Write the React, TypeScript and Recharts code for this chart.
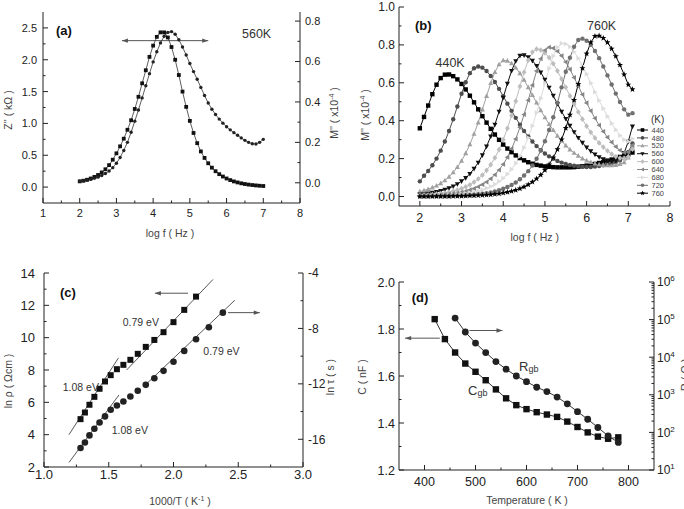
import React from 'react'
import { ComposedChart, Line, XAxis, YAxis, ReferenceLine, Legend } from 'recharts'

const FONT = '"Liberation Sans", Arial, Helvetica, sans-serif'
const INK = '#222'
const TITLE = '#444'

// ---------- (a) Z'' and M'' at 560K ----------
const logFA = [2, 2.1, 2.2, 2.3, 2.4, 2.5, 2.6, 2.7, 2.8, 2.9, 3, 3.1, 3.2, 3.3, 3.4, 3.5, 3.6, 3.7, 3.8, 3.9, 4, 4.1, 4.2, 4.3, 4.4, 4.5, 4.6, 4.7, 4.8, 4.9, 5, 5.1, 5.2, 5.3, 5.4, 5.5, 5.6, 5.7, 5.8, 5.9, 6, 6.1, 6.2, 6.3, 6.4, 6.5, 6.6, 6.7, 6.8, 6.9, 7]
const zImag = [0.09, 0.1, 0.115, 0.135, 0.16, 0.19, 0.23, 0.28, 0.345, 0.43, 0.53, 0.64, 0.76, 0.9, 1.05, 1.227, 1.418, 1.63, 1.835, 2.045, 2.222, 2.36, 2.43, 2.43, 2.35, 2.2, 2.0, 1.76, 1.5, 1.26, 1.04, 0.85, 0.69, 0.56, 0.458, 0.374, 0.305, 0.249, 0.203, 0.166, 0.135, 0.11, 0.089, 0.073, 0.059, 0.048, 0.039, 0.032, 0.026, 0.021, 0.017]
const mImag = [0.008, 0.01, 0.013, 0.017, 0.022, 0.028, 0.036, 0.046, 0.058, 0.075, 0.097, 0.125, 0.16, 0.2, 0.25, 0.305, 0.36, 0.42, 0.48, 0.54, 0.598, 0.648, 0.692, 0.725, 0.744, 0.748, 0.735, 0.708, 0.672, 0.632, 0.59, 0.55, 0.512, 0.472, 0.432, 0.395, 0.364, 0.338, 0.315, 0.295, 0.277, 0.262, 0.248, 0.235, 0.222, 0.21, 0.2, 0.193, 0.192, 0.2, 0.215]

// ---------- (b) M'' vs log f, 440-760 K ----------
const logFB = [2, 2.1, 2.2, 2.3, 2.4, 2.5, 2.6, 2.7, 2.8, 2.9, 3, 3.1, 3.2, 3.3, 3.4, 3.5, 3.6, 3.7, 3.8, 3.9, 4, 4.1, 4.2, 4.3, 4.4, 4.5, 4.6, 4.7, 4.8, 4.9, 5, 5.1, 5.2, 5.3, 5.4, 5.5, 5.6, 5.7, 5.8, 5.9, 6, 6.1, 6.2, 6.3, 6.4, 6.5, 6.6, 6.7, 6.8, 6.9, 7, 7.1]
const m440 = [0.36, 0.42, 0.48, 0.54, 0.59, 0.625, 0.643, 0.644, 0.635, 0.618, 0.594, 0.565, 0.532, 0.497, 0.46, 0.424, 0.39, 0.357, 0.327, 0.299, 0.274, 0.253, 0.234, 0.217, 0.203, 0.191, 0.181, 0.173, 0.167, 0.163, 0.159, 0.157, 0.155, 0.154, 0.154, 0.154, 0.154, 0.155, 0.157, 0.16, 0.163, 0.167, 0.172, 0.177, 0.182, 0.189, 0.195, 0.202, 0.209, 0.216, 0.223, 0.232]
const m480 = [0.08, 0.11, 0.135, 0.165, 0.2, 0.242, 0.29, 0.346, 0.408, 0.475, 0.542, 0.603, 0.651, 0.677, 0.686, 0.68, 0.662, 0.636, 0.604, 0.568, 0.53, 0.49, 0.452, 0.415, 0.379, 0.346, 0.317, 0.29, 0.266, 0.245, 0.227, 0.212, 0.199, 0.188, 0.179, 0.172, 0.166, 0.162, 0.159, 0.157, 0.156, 0.156, 0.158, 0.161, 0.165, 0.169, 0.175, 0.182, 0.19, 0.205, 0.235, 0.28]
const m520 = [0.026, 0.032, 0.039, 0.047, 0.057, 0.07, 0.085, 0.104, 0.127, 0.155, 0.188, 0.228, 0.275, 0.33, 0.39, 0.459, 0.53, 0.598, 0.656, 0.697, 0.718, 0.716, 0.702, 0.68, 0.65, 0.615, 0.576, 0.535, 0.495, 0.455, 0.417, 0.382, 0.35, 0.32, 0.293, 0.269, 0.248, 0.23, 0.215, 0.2, 0.19, 0.181, 0.174, 0.169, 0.166, 0.164, 0.164, 0.166, 0.171, 0.18, 0.205, 0.255]
const m560 = [0.011, 0.013, 0.016, 0.02, 0.024, 0.03, 0.036, 0.044, 0.054, 0.066, 0.081, 0.098, 0.12, 0.147, 0.179, 0.218, 0.264, 0.317, 0.38, 0.448, 0.522, 0.596, 0.663, 0.715, 0.743, 0.746, 0.736, 0.717, 0.69, 0.655, 0.617, 0.575, 0.532, 0.489, 0.448, 0.41, 0.374, 0.34, 0.31, 0.284, 0.259, 0.239, 0.222, 0.208, 0.197, 0.19, 0.186, 0.188, 0.2, 0.23, 0.29, 0.37]
const m600 = [0.006, 0.007, 0.008, 0.01, 0.013, 0.015, 0.019, 0.023, 0.028, 0.034, 0.042, 0.051, 0.062, 0.076, 0.093, 0.113, 0.138, 0.168, 0.204, 0.248, 0.3, 0.36, 0.428, 0.503, 0.581, 0.656, 0.719, 0.762, 0.778, 0.773, 0.758, 0.733, 0.701, 0.663, 0.62, 0.576, 0.531, 0.488, 0.446, 0.408, 0.371, 0.339, 0.309, 0.283, 0.261, 0.241, 0.224, 0.211, 0.203, 0.2, 0.21, 0.25]
const m640 = [0.003, 0.004, 0.005, 0.006, 0.007, 0.009, 0.01, 0.013, 0.016, 0.019, 0.023, 0.028, 0.035, 0.042, 0.052, 0.063, 0.077, 0.094, 0.115, 0.14, 0.17, 0.207, 0.252, 0.304, 0.364, 0.433, 0.508, 0.587, 0.662, 0.727, 0.772, 0.788, 0.783, 0.767, 0.743, 0.71, 0.671, 0.628, 0.583, 0.538, 0.494, 0.452, 0.413, 0.376, 0.343, 0.313, 0.287, 0.263, 0.244, 0.232, 0.235, 0.27]
const m680 = [0.002, 0.002, 0.003, 0.003, 0.004, 0.005, 0.006, 0.007, 0.009, 0.011, 0.013, 0.016, 0.02, 0.024, 0.029, 0.036, 0.044, 0.053, 0.065, 0.079, 0.097, 0.118, 0.144, 0.175, 0.213, 0.258, 0.31, 0.372, 0.442, 0.518, 0.598, 0.675, 0.742, 0.788, 0.808, 0.805, 0.79, 0.764, 0.73, 0.69, 0.646, 0.599, 0.552, 0.507, 0.464, 0.423, 0.386, 0.352, 0.322, 0.3, 0.29, 0.305]
const m720 = [0.001, 0.001, 0.001, 0.002, 0.002, 0.002, 0.003, 0.003, 0.004, 0.005, 0.006, 0.007, 0.008, 0.01, 0.012, 0.015, 0.018, 0.022, 0.027, 0.033, 0.041, 0.05, 0.061, 0.074, 0.091, 0.111, 0.134, 0.164, 0.199, 0.242, 0.292, 0.351, 0.418, 0.494, 0.576, 0.658, 0.732, 0.79, 0.826, 0.833, 0.822, 0.801, 0.768, 0.73, 0.686, 0.639, 0.591, 0.543, 0.499, 0.46, 0.432, 0.44]
const m760 = [0, 0, 0, 0, 0.001, 0.001, 0.001, 0.001, 0.002, 0.002, 0.002, 0.003, 0.004, 0.005, 0.006, 0.007, 0.008, 0.01, 0.013, 0.015, 0.019, 0.023, 0.028, 0.034, 0.042, 0.051, 0.063, 0.077, 0.094, 0.114, 0.139, 0.169, 0.205, 0.249, 0.301, 0.361, 0.431, 0.509, 0.593, 0.677, 0.754, 0.813, 0.846, 0.848, 0.836, 0.813, 0.78, 0.74, 0.694, 0.644, 0.59, 0.565]

// ---------- (c) Arrhenius plots ----------
const invT = [1.282, 1.316, 1.351, 1.389, 1.429, 1.471, 1.515, 1.563, 1.613, 1.667, 1.724, 1.786, 1.852, 1.923, 2.0, 2.083, 2.174, 2.273, 2.381]
const lnRho = [4.96, 5.37, 5.85, 6.34, 6.84, 7.29, 7.68, 8.05, 8.32, 8.63, 9.0, 9.43, 9.86, 10.34, 10.96, 11.72, 12.54]
const lnTau = [-16.63, -16.23, -15.72, -15.24, -14.79, -14.35, -13.87, -13.56, -13.27, -12.91, -12.5, -12.07, -11.59, -11.06, -10.41, -9.62, -8.78, -7.91, -6.86]

// ---------- (d) grain boundary C and R ----------
const temps = [420, 440, 460, 480, 500, 520, 540, 560, 580, 600, 620, 640, 660, 680, 700, 720, 740, 760, 780]
const cgb = [1.842, 1.757, 1.7, 1.653, 1.618, 1.582, 1.543, 1.505, 1.476, 1.459, 1.446, 1.436, 1.426, 1.406, 1.383, 1.36, 1.342, 1.333, 1.339]
const rgb = [null, null, 109600, 46800, 23700, 13300, 7670, 4790, 3160, 2240, 1590, 1220, 871, 575, 355, 224, 135, 81, 54]

// ticks
const ticksAX = [1, 1.5, 2, 2.5, 3, 3.5, 4, 4.5, 5, 5.5, 6, 6.5, 7, 7.5, 8]
const majAX = [1, 2, 3, 4, 5, 6, 7, 8]
const ticksAL = [0, 0.25, 0.5, 0.75, 1, 1.25, 1.5, 1.75, 2, 2.25, 2.5]
const majAL = [0, 0.5, 1, 1.5, 2, 2.5]
const ticksAR = [0, 0.1, 0.2, 0.3, 0.4, 0.5, 0.6, 0.7, 0.8]
const majAR = [0, 0.2, 0.4, 0.6, 0.8]
const ticksBX = [2, 2.5, 3, 3.5, 4, 4.5, 5, 5.5, 6, 6.5, 7, 7.5, 8]
const majBX = [2, 3, 4, 5, 6, 7, 8]
const ticksBY = [0, 0.1, 0.2, 0.3, 0.4, 0.5, 0.6, 0.7, 0.8, 0.9, 1.0]
const majBY = [0, 0.2, 0.4, 0.6, 0.8, 1.0]
const ticksCX = [1, 1.25, 1.5, 1.75, 2, 2.25, 2.5, 2.75, 3]
const majCX = [1, 1.5, 2, 2.5, 3]
const ticksCL = [2, 3, 4, 5, 6, 7, 8, 9, 10, 11, 12, 13, 14]
const majCL = [2, 4, 6, 8, 10, 12, 14]
const ticksCR = [-16, -14, -12, -10, -8, -6, -4]
const majCR = [-16, -12, -8, -4]
const ticksDX = [400, 450, 500, 550, 600, 650, 700, 750, 800]
const majDX = [400, 500, 600, 700, 800]
const ticksDL = [1.2, 1.3, 1.4, 1.5, 1.6, 1.7, 1.8, 1.9, 2.0]
const majDL = [1.2, 1.4, 1.6, 1.8, 2.0]
const ticksDR = [10, 20, 30, 40, 50, 60, 70, 80, 90, 100, 200, 300, 400, 500, 600, 700, 800, 900, 1000, 2000, 3000, 4000, 5000, 6000, 7000, 8000, 9000, 10000, 20000, 30000, 40000, 50000, 60000, 70000, 80000, 90000, 100000, 200000, 300000, 400000, 500000, 600000, 700000, 800000, 900000, 1000000]
const majDR = [10, 100, 1000, 10000, 100000, 1000000]

const seriesB = [
  { key: 't440', label: '440', values: m440, color: '#000', shape: 'square' },
  { key: 't480', label: '480', values: m480, color: '#4d4d4d', shape: 'circle' },
  { key: 't520', label: '520', values: m520, color: '#a0a0a0', shape: 'up' },
  { key: 't560', label: '560', values: m560, color: '#111', shape: 'down' },
  { key: 't600', label: '600', values: m600, color: '#bdbdbd', shape: 'diamond' },
  { key: 't640', label: '640', values: m640, color: '#858585', shape: 'left' },
  { key: 't680', label: '680', values: m680, color: '#dcdcdc', shape: 'right' },
  { key: 't720', label: '720', values: m720, color: '#707070', shape: 'circle' },
  { key: 't760', label: '760', values: m760, color: '#000', shape: 'star' },
]

function marker(shape: string, cx: number, cy: number, s: number, fill: string, key?: any) {
  if (cx == null || cy == null || isNaN(cx) || isNaN(cy)) return <g key={key} />
  switch (shape) {
    case 'square':
      return <rect key={key} x={cx - s} y={cy - s} width={2 * s} height={2 * s} fill={fill} />
    case 'circle':
      return <circle key={key} cx={cx} cy={cy} r={s} fill={fill} />
    case 'up':
      return <polygon key={key} points={`${cx},${cy - s * 1.25} ${cx + s * 1.15},${cy + s * 0.85} ${cx - s * 1.15},${cy + s * 0.85}`} fill={fill} />
    case 'down':
      return <polygon key={key} points={`${cx},${cy + s * 1.25} ${cx + s * 1.15},${cy - s * 0.85} ${cx - s * 1.15},${cy - s * 0.85}`} fill={fill} />
    case 'left':
      return <polygon key={key} points={`${cx - s * 1.25},${cy} ${cx + s * 0.85},${cy - s * 1.15} ${cx + s * 0.85},${cy + s * 1.15}`} fill={fill} />
    case 'right':
      return <polygon key={key} points={`${cx + s * 1.25},${cy} ${cx - s * 0.85},${cy - s * 1.15} ${cx - s * 0.85},${cy + s * 1.15}`} fill={fill} />
    case 'diamond':
      return <polygon key={key} points={`${cx},${cy - s * 1.3} ${cx + s * 1.1},${cy} ${cx},${cy + s * 1.3} ${cx - s * 1.1},${cy}`} fill={fill} />
    case 'star': {
      const pts: string[] = []
      for (let i = 0; i < 10; i++) {
        const r = i % 2 === 0 ? s * 1.45 : s * 0.6
        const a = -Math.PI / 2 + (i * Math.PI) / 5
        pts.push(`${cx + r * Math.cos(a)},${cy + r * Math.sin(a)}`)
      }
      return <polygon key={key} points={pts.join(' ')} fill={fill} />
    }
  }
  return <g key={key} />
}

const dotOf = (shape: string, s: number, fill: string) => (p: any) => marker(shape, p.cx, p.cy, s, fill, `d${p.index}`)

const isMajor = (v: number, majors: number[]) => majors.some((m) => Math.abs(m - v) <= Math.abs(m) * 1e-6 + 1e-9)

// inward ticks, long for majors, short for minors; labels only on majors
function makeTick(side: string, majors: number[], fmt: ((v: number) => any) | null, fontSize = 12, gap = 12) {
  return (props: any) => {
    const { x, y, payload } = props
    const v = payload.value
    const major = isMajor(v, majors)
    const len = major ? 5 : 2.5
    let x2 = x
    let y2 = y
    if (side === 'bottom') y2 = y - len
    if (side === 'top') y2 = y + len
    if (side === 'left') x2 = x + len
    if (side === 'right') x2 = x - len
    let label: any = null
    if (major && fmt) {
      const common = { fontSize, fill: INK, fontFamily: FONT }
      if (side === 'bottom') label = <text x={x} y={y + gap} textAnchor="middle" {...common}>{fmt(v)}</text>
      if (side === 'left') label = <text x={x - gap} y={y + fontSize * 0.36} textAnchor="end" {...common}>{fmt(v)}</text>
      if (side === 'right') label = <text x={x + gap} y={y + fontSize * 0.36} textAnchor="start" {...common}>{fmt(v)}</text>
    }
    return (
      <g>
        <line x1={x} y1={y} x2={x2} y2={y2} stroke={INK} strokeWidth={1} />
        {label}
      </g>
    )
  }
}

const arrowShape = (both: boolean) => (p: any) => {
  const { x1, y1, x2, y2 } = p
  const a = Math.atan2(y2 - y1, x2 - x1)
  const head = (x: number, y: number, ang: number) => {
    const L = 6
    const W = 2.2
    const bx = x - L * Math.cos(ang)
    const by = y - L * Math.sin(ang)
    return `${x},${y} ${bx - W * Math.sin(ang)},${by + W * Math.cos(ang)} ${bx + W * Math.sin(ang)},${by - W * Math.cos(ang)}`
  }
  return (
    <g>
      <line x1={x1} y1={y1} x2={x2} y2={y2} stroke="#555" strokeWidth={1} />
      <polygon points={head(x2, y2, a)} fill="#555" />
      {both ? <polygon points={head(x1, y1, a + Math.PI)} fill="#555" /> : null}
    </g>
  )
}

const axisLine = { stroke: INK, strokeWidth: 1 }
const axisBase = { tickLine: false, tickSize: 0, tickMargin: 0, interval: 0 as const, allowDataOverflow: true, axisLine }
const fmt1 = (v: number) => v.toFixed(1)
const fmtInt = (v: number) => String(v)
const fmtPow = (v: number) => (
  <>
    <tspan>10</tspan>
    <tspan dy={-5} fontSize={8}>{Math.round(Math.log10(v))}</tspan>
  </>
)

function PanelA() {
  const data = logFA.map((x, i) => ({ x, z: zImag[i], m: mImag[i] }))
  return (
    <ComposedChart width={342} height={254} data={data} margin={{ top: 12, right: 0, bottom: 0, left: 0 }}>
      <XAxis xAxisId="top" orientation="top" type="number" domain={[1, 8]} height={0} ticks={ticksAX} tick={makeTick('top', majAX, null)} {...axisBase} />
      <XAxis dataKey="x" type="number" domain={[1, 8]} height={51} ticks={ticksAX} tick={makeTick('bottom', majAX, fmtInt, 11, 13.5)} {...axisBase} />
      <YAxis yAxisId="l" type="number" domain={[-0.25, 2.75]} width={43} ticks={ticksAL} tick={makeTick('left', majAL, fmt1, 11, 6)} {...axisBase} />
      <YAxis yAxisId="r" orientation="right" type="number" domain={[-0.1, 0.845]} width={42} ticks={ticksAR} tick={makeTick('right', majAR, fmt1, 11, 5)} {...axisBase} />
      <ReferenceLine yAxisId="l" segment={[{ x: 3.15, y: 2.3 }, { x: 5.5, y: 2.3 }]} shape={arrowShape(true)} />
      <Line yAxisId="l" dataKey="z" type="linear" stroke="#333" strokeWidth={0.8} dot={dotOf('square', 1.9, '#111')} activeDot={false} isAnimationActive={false} />
      <Line yAxisId="r" dataKey="m" type="linear" stroke="#333" strokeWidth={0.8} dot={dotOf('circle', 1.7, '#222')} activeDot={false} isAnimationActive={false} />
    </ComposedChart>
  )
}

const legendB = () => (
  <svg width={48} height={92} style={{ overflow: 'visible' }}>
    <text x={14} y={11} fontSize={10} fill="#333" fontFamily={FONT}>(K)</text>
    {seriesB.map((s, i) => {
      const cy = 18 + i * 7.9
      return (
        <g key={s.key}>
          <line x1={0} y1={cy} x2={11} y2={cy} stroke={s.color} strokeWidth={1} />
          {marker(s.shape, 5.5, cy, 1.8, s.color)}
          <text x={14.5} y={cy + 2.6} fontSize={7.5} fill="#444" fontFamily={FONT}>{s.label}</text>
        </g>
      )
    })}
  </svg>
)

function PanelB() {
  const data = logFB.map((x, i) => {
    const row: any = { x }
    seriesB.forEach((s) => { row[s.key] = s.values[i] })
    return row
  })
  return (
    <ComposedChart width={342} height={254} data={data} margin={{ top: 7, right: 14, bottom: 0, left: 0 }}>
      <XAxis xAxisId="top" orientation="top" type="number" domain={[1.5, 8]} height={0} ticks={ticksBX} tick={makeTick('top', majBX, null)} {...axisBase} />
      <XAxis dataKey="x" type="number" domain={[1.5, 8]} height={48} ticks={ticksBX} tick={makeTick('bottom', majBX, fmtInt, 12.5, 15.5)} {...axisBase} />
      <YAxis yAxisId="l" type="number" domain={[-0.05, 1.0]} width={57} ticks={ticksBY} tick={makeTick('left', majBY, fmt1, 12, 4)} {...axisBase} />
      <YAxis yAxisId="r" orientation="right" type="number" domain={[-0.05, 1.0]} width={0} ticks={ticksBY} tick={makeTick('right', majBY, null)} {...axisBase} />
      {seriesB.map((s) => (
        <Line key={s.key} yAxisId="l" dataKey={s.key} type="linear" stroke={s.color} strokeWidth={1} dot={dotOf(s.shape, 2.2, s.color)} activeDot={false} isAnimationActive={false} />
      ))}
      <Legend layout="vertical" align="center" verticalAlign="middle" content={legendB} wrapperStyle={{ left: 295, top: 112, width: 48, height: 92 }} />
    </ComposedChart>
  )
}

function PanelC() {
  const data = invT.map((x, i) => ({ x, rho: i < lnRho.length ? lnRho[i] : null, tau: lnTau[i] }))
  const fit = { stroke: '#444', strokeWidth: 0.9 }
  return (
    <ComposedChart width={342} height={255} data={data} margin={{ top: 19, right: 0, bottom: 0, left: 0 }}>
      <XAxis xAxisId="top" orientation="top" type="number" domain={[1, 3]} height={0} ticks={ticksCX} tick={makeTick('top', majCX, null)} {...axisBase} />
      <XAxis dataKey="x" type="number" domain={[1, 3]} height={42} ticks={ticksCX} tick={makeTick('bottom', majCX, fmt1, 13, 12)} {...axisBase} />
      <YAxis yAxisId="l" type="number" domain={[2, 14]} width={44} ticks={ticksCL} tick={makeTick('left', majCL, fmtInt, 13, 9)} {...axisBase} />
      <YAxis yAxisId="r" orientation="right" type="number" domain={[-18, -4]} width={39} ticks={ticksCR} tick={makeTick('right', majCR, fmtInt, 12, 5)} {...axisBase} />
      <ReferenceLine yAxisId="l" segment={[{ x: 1.193, y: 4.0 }, { x: 1.575, y: 8.75 }]} {...fit} />
      <ReferenceLine yAxisId="l" segment={[{ x: 1.638, y: 8.0 }, { x: 2.305, y: 13.6 }]} {...fit} />
      <ReferenceLine yAxisId="r" segment={[{ x: 1.193, y: -17.67 }, { x: 1.579, y: -12.8 }]} {...fit} />
      <ReferenceLine yAxisId="r" segment={[{ x: 1.78, y: -12.1 }, { x: 2.473, y: -5.97 }]} {...fit} />
      <ReferenceLine yAxisId="l" segment={[{ x: 2.112, y: 12.75 }, { x: 1.856, y: 12.75 }]} shape={arrowShape(false)} />
      <ReferenceLine yAxisId="r" segment={[{ x: 2.421, y: -6.86 }, { x: 2.666, y: -6.86 }]} shape={arrowShape(false)} />
      <Line yAxisId="l" dataKey="rho" type="linear" stroke="transparent" strokeWidth={0} dot={dotOf('square', 3, '#111')} activeDot={false} isAnimationActive={false} />
      <Line yAxisId="r" dataKey="tau" type="linear" stroke="transparent" strokeWidth={0} dot={dotOf('circle', 3.3, '#222')} activeDot={false} isAnimationActive={false} />
    </ComposedChart>
  )
}

function PanelD() {
  const data = temps.map((t, i) => ({ t, c: cgb[i], r: rgb[i] }))
  return (
    <ComposedChart width={342} height={255} data={data} margin={{ top: 28, right: 0, bottom: 0, left: 0 }}>
      <XAxis xAxisId="top" orientation="top" type="number" domain={[350, 850]} height={0} ticks={ticksDX} tick={makeTick('top', majDX, null)} {...axisBase} />
      <XAxis dataKey="t" type="number" domain={[350, 850]} height={39} ticks={ticksDX} tick={makeTick('bottom', majDX, fmtInt, 12.5, 15.5)} {...axisBase} />
      <YAxis yAxisId="l" type="number" domain={[1.2, 2.0]} width={57} ticks={ticksDL} tick={makeTick('left', majDL, fmt1, 12.5, 4)} {...axisBase} />
      <YAxis yAxisId="r" orientation="right" type="number" scale="log" domain={[10, 1000000]} width={30} ticks={ticksDR} tick={makeTick('right', majDR, fmtPow, 12, 3)} {...axisBase} />
      <ReferenceLine yAxisId="l" segment={[{ x: 430, y: 1.761 }, { x: 362, y: 1.761 }]} shape={arrowShape(false)} />
      <ReferenceLine yAxisId="r" segment={[{ x: 488, y: 51300 }, { x: 553, y: 51300 }]} shape={arrowShape(false)} />
      <Line yAxisId="l" dataKey="c" type="linear" stroke="#333" strokeWidth={1} dot={dotOf('square', 3.2, '#111')} activeDot={false} isAnimationActive={false} />
      <Line yAxisId="r" dataKey="r" type="linear" stroke="#333" strokeWidth={1} dot={dotOf('circle', 3.4, '#222')} activeDot={false} isAnimationActive={false} />
    </ComposedChart>
  )
}

function Titles() {
  const t = { fontFamily: FONT, fill: TITLE, fontSize: 10.5 }
  const bold = { fontFamily: FONT, fill: '#111', fontSize: 13, fontWeight: 700 }
  const note = { fontFamily: FONT, fill: '#333', fontSize: 12.5 }
  const ev = { fontFamily: FONT, fill: '#333', fontSize: 10.5 }
  const rot = (x: number, y: number) => `rotate(-90 ${x} ${y})`
  return (
    <svg width={684} height={509} style={{ position: 'absolute', left: 0, top: 0, pointerEvents: 'none' }}>
      {/* (a) */}
      <text x={56} y={35} {...bold}>(a)</text>
      <text x={242} y={37.5} {...note}>560K</text>
      <text x={12} y={110} textAnchor="middle" transform={rot(12, 110)} {...t}>{"Z'' ( k\u03A9 )"}</text>
      <text x={338} y={113} textAnchor="middle" transform={rot(338, 113)} {...t}>
        <tspan>{"M'' ( x10"}</tspan><tspan dy={-4} fontSize={7}>-4</tspan><tspan dy={4}>{' )'}</tspan>
      </text>
      <text x={170} y={237} textAnchor="middle" {...t}>log f ( Hz )</text>
      {/* (b) */}
      <text x={415} y={29.5} {...bold}>(b)</text>
      <text x={435.5} y={67} {...note}>440K</text>
      <text x={587} y={30} {...note}>760K</text>
      <text x={369} y={115} textAnchor="middle" transform={rot(369, 115)} {...t}>
        <tspan>{"M'' ( x10"}</tspan><tspan dy={-4} fontSize={7}>-4</tspan><tspan dy={4}>{' )'}</tspan>
      </text>
      <text x={534.7} y={241} textAnchor="middle" {...t}>log f ( Hz )</text>
      {/* (c) */}
      <text x={60} y={296.5} {...bold}>(c)</text>
      <text x={12} y={381} textAnchor="middle" transform={rot(12, 381)} {...t}>{'ln \u03C1 ( \u03A9cm )'}</text>
      <text x={334} y={377} textAnchor="middle" transform={rot(334, 377)} {...t}>{'ln \u03C4 ( s )'}</text>
      <text x={180} y={505} textAnchor="middle" {...t}>
        <tspan>{'1000/T ( K'}</tspan><tspan dy={-4} fontSize={7}>-1</tspan><tspan dy={4}>{' )'}</tspan>
      </text>
      <text x={122.7} y={326} {...ev}>0.79 eV</text>
      <text x={203.3} y={355} {...ev}>0.79 eV</text>
      <text x={62.7} y={391} {...ev}>1.08 eV</text>
      <text x={111.7} y={434.3} {...ev}>1.08 eV</text>
      {/* (d) */}
      <text x={411.7} y={301.5} {...bold}>(d)</text>
      <text x={366} y={377} textAnchor="middle" transform={rot(366, 377)} {...t}>C ( nF )</text>
      <text x={689} y={375} textAnchor="middle" transform={rot(689, 375)} {...t} fontSize={11}>{'R ( \u03A9 )'}</text>
      <text x={527} y={504} textAnchor="middle" {...t}>Temperature ( K )</text>
      <text x={519} y={371} {...note} fontSize={13}>R<tspan fontSize={9} dy={1}>gb</tspan></text>
      <text x={468} y={394.5} {...note} fontSize={13}>C<tspan fontSize={9} dy={1}>gb</tspan></text>
    </svg>
  )
}

export default function App() {
  return (
    <div style={{ position: 'absolute', left: 0, top: 0, width: 684, height: 509, background: '#fff', overflow: 'hidden', fontFamily: FONT }}>
      <div style={{ position: 'absolute', left: 0, top: 0 }}><PanelA /></div>
      <div style={{ position: 'absolute', left: 342, top: 0 }}><PanelB /></div>
      <div style={{ position: 'absolute', left: 0, top: 254 }}><PanelC /></div>
      <div style={{ position: 'absolute', left: 342, top: 254 }}><PanelD /></div>
      <Titles />
    </div>
  )
}
